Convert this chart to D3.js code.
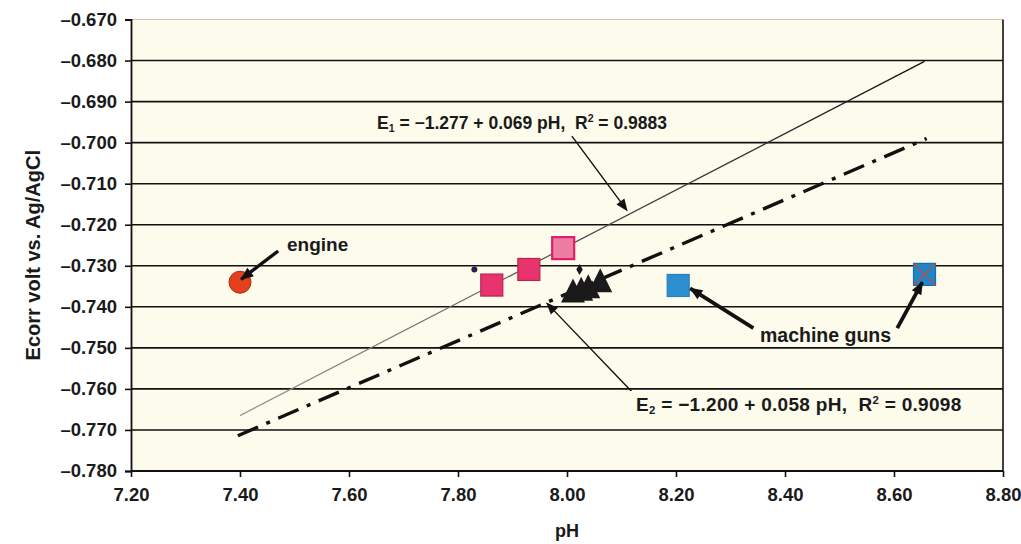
<!DOCTYPE html>
<html>
<head>
<meta charset="utf-8">
<script src="https://cdn.jsdelivr.net/npm/d3@7"></script>
<style>
	body { margin: 0; background: #fff; }
	text { font-family: "Liberation Sans", Arial, Helvetica, sans-serif; font-weight: bold; fill: #1a1a1a; }
</style>
</head>
<body>
<svg id="chart" width="1021" height="544"></svg>
<script>
// Values (pH, Ecorr in V vs. Ag/AgCl)
const engine = [[7.40, -0.7340]]
const pinkSquares = [[7.862, -0.7347], [7.930, -0.7309]]
const pinkOpen = [[7.993, -0.7257]]
const triangles = [[8.011, -0.7365], [8.026, -0.7361], [8.039, -0.7355], [8.061, -0.7340]]
const blueSquares = [[8.204, -0.7348]]
const blueCrossed = [[8.656, -0.7321]]
const navyDot = [[7.830, -0.7309]]
const smallDiamond = [[8.023, -0.7309]]

// Regression lines, endpoints as drawn
const fit1 = [[7.40, -0.7665], [8.656, -0.6802]]
const fit2 = [[7.396, -0.7714], [8.660, -0.6990]]

const xTicks = [7.20, 7.40, 7.60, 7.80, 8.00, 8.20, 8.40, 8.60, 8.80]
const yTicks = [-0.670, -0.680, -0.690, -0.700, -0.710, -0.720, -0.730, -0.740, -0.750, -0.760, -0.770, -0.780]

const eq1 = ["E", "1", " = \u22121.277 + 0.069 pH,\u00a0\u00a0R", "2", " = 0.9883"]
const eq2 = ["E", "2", " = \u22121.200 + 0.058 pH,\u00a0\u00a0R", "2", " = 0.9098"]

const svg = d3.select("#chart")
const plot = { left: 131, right: 1003, top: 19.5, bottom: 471 }

const x = d3.scaleLinear().domain([7.2, 8.8]).range([plot.left, plot.right])
const y = d3.scaleLinear().domain([-0.78, -0.67]).range([plot.bottom, plot.top])

const fmtY = v => "\u2013" + d3.format(".3f")(Math.abs(v))

const defs = svg.append("defs")

// Plot area background
svg.append("rect")
	.attr("x", plot.left)
	.attr("y", plot.top)
	.attr("width", plot.right - plot.left)
	.attr("height", plot.bottom - plot.top)
	.attr("fill", "#fcfbec")

// Horizontal gridlines
svg.append("g")
	.selectAll("line")
	.data(yTicks.slice(1, -1))
	.join("line")
	.attr("x1", plot.left)
	.attr("x2", plot.right)
	.attr("y1", d => y(d))
	.attr("y2", d => y(d))
	.attr("stroke", "#111")
	.attr("stroke-width", 1.6)

svg.append("line")
	.attr("x1", plot.left).attr("x2", plot.right)
	.attr("y1", plot.top).attr("y2", plot.top)
	.attr("stroke", "#c8c8b8").attr("stroke-width", 1)

svg.append("line")
	.attr("x1", plot.right).attr("x2", plot.right)
	.attr("y1", plot.top).attr("y2", plot.bottom)
	.attr("stroke", "#111").attr("stroke-width", 1.6)

// Axes
const xAxis = svg.append("g")
	.attr("transform", `translate(0,${plot.bottom})`)
	.call(d3.axisBottom(x).tickValues(xTicks).tickFormat(d3.format(".2f")).tickSize(6).tickPadding(11))
const yAxis = svg.append("g")
	.attr("transform", `translate(${plot.left},0)`)
	.call(d3.axisLeft(y).tickValues(yTicks).tickFormat(fmtY).tickSize(6).tickPadding(8))

for (const ax of [xAxis, yAxis]) {
	ax.select(".domain").attr("stroke", "#111").attr("stroke-width", 1.8)
	ax.selectAll(".tick line").attr("stroke", "#111").attr("stroke-width", 1.6)
	ax.selectAll(".tick text")
		.attr("fill", "#1a1a1a")
		.style("font-size", "18.5px")
		.style("font-weight", "bold")
		.style("font-family", "'Liberation Sans', Arial, sans-serif")
}
xAxis.select(".domain").attr("d", `M${plot.left},0H${plot.right}`)

svg.append("text")
	.attr("x", x(8.0))
	.attr("y", 537)
	.attr("text-anchor", "middle")
	.style("font-size", "18px")
	.text("pH")

svg.append("text")
	.attr("transform", `translate(40,${(plot.top + plot.bottom) / 2 + 10}) rotate(-90)`)
	.attr("text-anchor", "middle")
	.style("font-size", "20px")
	.text("Ecorr volt vs. Ag/AgCl")

// Regression lines; the scanned thin line fades towards its lower end
const grad = defs.append("linearGradient")
	.attr("id", "fade")
	.attr("gradientUnits", "userSpaceOnUse")
	.attr("x1", x(fit1[0][0])).attr("y1", y(fit1[0][1]))
	.attr("x2", x(fit1[1][0])).attr("y2", y(fit1[1][1]))
grad.append("stop").attr("offset", 0).attr("stop-color", "#9a9a92")
grad.append("stop").attr("offset", 0.45).attr("stop-color", "#555")
grad.append("stop").attr("offset", 1).attr("stop-color", "#111")

const line = d3.line().x(d => x(d[0])).y(d => y(d[1]))
svg.append("path")
	.datum(fit1)
	.attr("d", line)
	.attr("fill", "none")
	.attr("stroke", "url(#fade)")
	.attr("stroke-width", 1.3)
svg.append("path")
	.datum(fit2)
	.attr("d", line)
	.attr("fill", "none")
	.attr("stroke", "#111")
	.attr("stroke-width", 3.4)
	.attr("stroke-dasharray", "22,9,4,9")

// Markers
const sq = 22
svg.append("g")
	.selectAll("circle")
	.data(engine)
	.join("circle")
	.attr("cx", d => x(d[0]))
	.attr("cy", d => y(d[1]))
	.attr("r", 11)
	.attr("fill", "#e2401f")
	.attr("stroke", "#b02a14")
	.attr("stroke-width", 1)

function squares(data, fill, stroke) {
	return svg.append("g")
		.selectAll("rect")
		.data(data)
		.join("rect")
		.attr("x", d => x(d[0]) - sq / 2)
		.attr("y", d => y(d[1]) - sq / 2)
		.attr("width", sq)
		.attr("height", sq)
		.attr("fill", fill)
		.attr("stroke", stroke)
		.attr("stroke-width", 1.2)
}
squares(pinkSquares, "#e8336f", "#b5254f")
squares(pinkOpen, "#ec7ea3", "#e01d6a").attr("stroke-width", 2.2)
squares(blueSquares, "#2d8fcf", "#2a7fb8")
squares(blueCrossed, "#1f86c8", "#1a6ea8")

svg.append("g")
	.selectAll("path")
	.data(blueCrossed)
	.join("path")
	.attr("d", d => {
		let cx = x(d[0]), cy = y(d[1]), h = sq / 2
		return `M${cx - h},${cy - h}L${cx + h},${cy + h}M${cx + h},${cy - h}L${cx - h},${cy + h}`
	})
	.attr("stroke", "#d2452e")
	.attr("stroke-width", 1.2)

// Triangles: 24 wide, 24 tall, centred on the point
svg.append("g")
	.selectAll("path")
	.data(triangles)
	.join("path")
	.attr("transform", d => `translate(${x(d[0])},${y(d[1])})`)
	.attr("d", "M0,-14L12,10L-12,10Z")
	.attr("fill", "#1a1a1a")

svg.append("g")
	.selectAll("circle")
	.data(navyDot)
	.join("circle")
	.attr("cx", d => x(d[0]))
	.attr("cy", d => y(d[1]))
	.attr("r", 3)
	.attr("fill", "#22224a")

svg.append("g")
	.selectAll("path")
	.data(smallDiamond)
	.join("path")
	.attr("transform", d => `translate(${x(d[0])},${y(d[1])})`)
	.attr("d", d3.symbol(d3.symbolDiamond, 36))
	.attr("fill", "#1a1a1a")

// Annotations
const arrows = [
	{ from: [7.470, -0.7264], to: [7.402, -0.7333], w: 3.4, head: 12 },
	{ from: [8.009, -0.6984], to: [8.110, -0.7165], w: 1.4, head: 11 },
	{ from: [8.127, -0.7618], to: [7.963, -0.7391], w: 1.4, head: 11 },
	{ from: [8.342, -0.7452], to: [8.226, -0.7355], w: 3.8, head: 12 },
	{ from: [8.606, -0.7452], to: [8.652, -0.7340], w: 3.8, head: 12 },
]
svg.append("g")
	.selectAll("line")
	.data(arrows)
	.join("line")
	.attr("x1", d => x(d.from[0]))
	.attr("y1", d => y(d.from[1]))
	.attr("x2", d => x(d.to[0]))
	.attr("y2", d => y(d.to[1]))
	.attr("stroke", "#111")
	.attr("stroke-width", d => d.w)

svg.append("g")
	.selectAll("path")
	.data(arrows)
	.join("path")
	.attr("transform", d => {
		let a = Math.atan2(y(d.to[1]) - y(d.from[1]), x(d.to[0]) - x(d.from[0])) * 180 / Math.PI
		return `translate(${x(d.to[0])},${y(d.to[1])}) rotate(${a})`
	})
	.attr("d", d => `M1,0L${-d.head},${-d.head * 0.45}L${-d.head},${d.head * 0.45}Z`)
	.attr("fill", "#111")

function label(parts, px, py, size, spacing) {
	let t = svg.append("text")
		.attr("x", px)
		.attr("y", py)
		.style("font-size", size + "px")
		.style("letter-spacing", spacing + "px")
	parts.forEach((p, i) => {
		let ts = t.append("tspan").text(p)
		if (i === 1) ts.style("font-size", (size * 0.6) + "px").attr("dy", 3)
		if (i === 2) ts.attr("dy", -3)
		if (i === 3) ts.style("font-size", (size * 0.6) + "px").attr("dy", -7)
		if (i === 4) ts.attr("dy", 7)
	})
	return t
}

svg.append("rect").attr("x", 372).attr("y", 110).attr("width", 296).attr("height", 24).attr("fill", "#fcfbec")
label(eq1, 377, 129, 17.5, 0)
svg.append("rect").attr("x", 630).attr("y", 391).attr("width", 342).attr("height", 26).attr("fill", "#fcfbec")
label(eq2, 636, 411, 19, 0.3)

svg.append("text").attr("x", 287).attr("y", 251).style("font-size", "19px").text("engine")
svg.append("text").attr("x", 760).attr("y", 342).style("font-size", "19.5px").text("machine guns")
</script>
</body>
</html>
